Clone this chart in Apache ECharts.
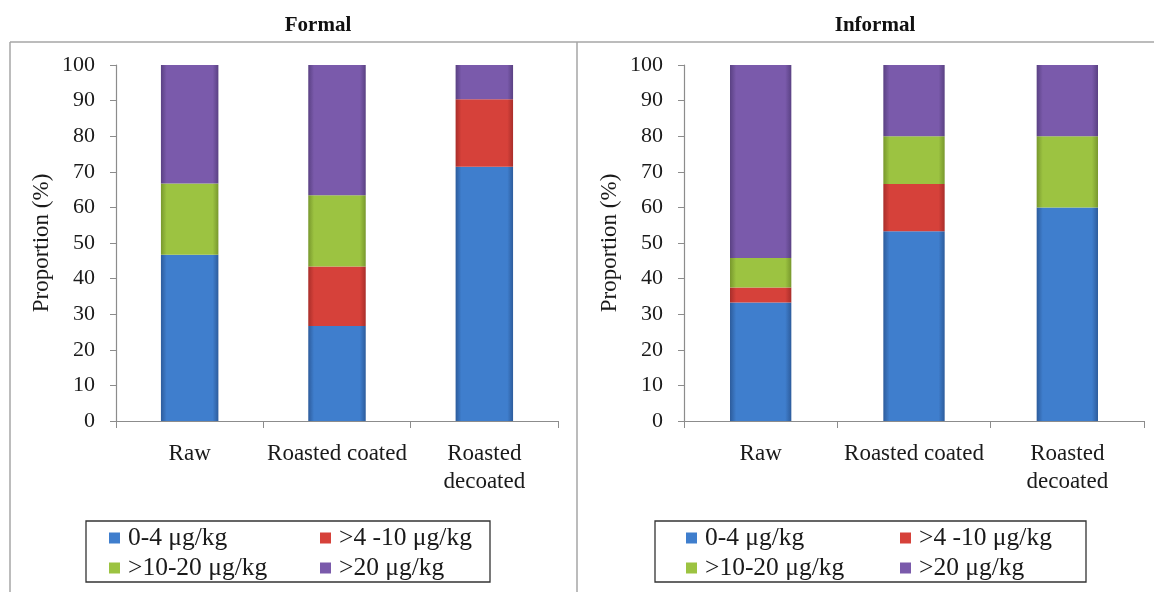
<!DOCTYPE html>
<html>
<head>
<meta charset="utf-8">
<script src="https://cdn.jsdelivr.net/npm/echarts@6/dist/echarts.min.js"></script>
<style>
  html, body { margin: 0; padding: 0; background: #fff; }
  #chart { width: 1154px; height: 592px; }
</style>
</head>
<body>
<div id="chart"></div>
<script>
// Sample categories shared by both panels
const categories = ['Raw', 'Roasted coated', 'Roasted\ndecoated'];
const panelTitles = ['Formal', 'Informal'];
const classNames = ['0-4 μg/kg', '>4 -10 μg/kg', '>10-20 μg/kg', '>20 μg/kg'];
const yTicks = [0, 10, 20, 30, 40, 50, 60, 70, 80, 90, 100];

// Proportion (%) of samples in each contamination class
const formal_0_4    = [46.7, 26.7, 71.4];
const formal_4_10   = [0, 16.7, 19.0];
const formal_10_20  = [20.0, 20.0, 0];
const formal_gt20   = [33.3, 36.6, 9.6];

const informal_0_4   = [33.3, 53.3, 60.0];
const informal_4_10  = [4.2, 13.3, 0];
const informal_10_20 = [8.3, 13.4, 20.0];
const informal_gt20  = [54.2, 20.0, 20.0];

const formalSets = [formal_0_4, formal_4_10, formal_10_20, formal_gt20];
const informalSets = [informal_0_4, informal_4_10, informal_10_20, informal_gt20];

// Base / edge shades for each class
const palette = [
  { mid: '#3f7ecd', edge: '#2d5c9c' },
  { mid: '#d6413a', edge: '#a92e2a' },
  { mid: '#9cc341', edge: '#78982d' },
  { mid: '#7a5aab', edge: '#5a4183' }
];

function barFill(c) {
  return new echarts.graphic.LinearGradient(0, 0, 1, 0, [
    { offset: 0, color: c.edge },
    { offset: 0.1, color: c.mid },
    { offset: 0.9, color: c.mid },
    { offset: 1, color: c.edge }
  ]);
}

const serif = 'Liberation Serif';

const chart = echarts.init(document.getElementById('chart'), null, { renderer: 'canvas' });

const grids = [
  { left: 116, width: 442, top: 65, height: 356 },
  { left: 684, width: 460, top: 65, height: 356 }
];

function xAxisFor(i) {
  return {
    type: 'category',
    gridIndex: i,
    data: categories,
    axisLine: { lineStyle: { color: '#8c8c8c', width: 1.2 } },
    axisTick: { show: true, length: 7, alignWithLabel: false, lineStyle: { color: '#8c8c8c' } },
    axisLabel: {
      interval: 0, margin: 19, color: '#1a1a1a',
      fontFamily: serif, fontSize: 23, lineHeight: 28
    }
  };
}

function yAxisFor(i) {
  return {
    type: 'value',
    gridIndex: i,
    min: 0, max: 100, interval: 10,
    name: 'Proportion (%)',
    nameLocation: 'middle',
    nameRotate: 90,
    nameGap: 63,
    nameTextStyle: { fontFamily: serif, fontSize: 23, color: '#1a1a1a' },
    splitLine: { show: false },
    axisLine: { show: true, lineStyle: { color: '#8c8c8c', width: 1.2 } },
    axisTick: { show: true, inside: false, length: 6, lineStyle: { color: '#8c8c8c' } },
    axisLabel: {
      margin: 21, color: '#1a1a1a', fontFamily: serif, fontSize: 22,
      formatter: v => (yTicks.indexOf(v) >= 0 ? String(v) : '')
    }
  };
}

const series = [];
[formalSets, informalSets].forEach((sets, g) => {
  sets.forEach((vals, k) => {
    series.push({
      name: classNames[k],
      type: 'bar',
      stack: 'panel' + g,
      xAxisIndex: g,
      yAxisIndex: g,
      barWidth: g === 0 ? '39%' : '40%',
      itemStyle: { color: barFill(palette[k]) },
      emphasis: { disabled: true },
      data: vals
    });
  });
});

function legendAt(left, top, names) {
  return {
    orient: 'vertical',
    left: left, top: top,
    data: names.map(n => ({ name: n, itemStyle: { color: palette[classNames.indexOf(n)].mid } })),
    icon: 'rect',
    itemWidth: 11, itemHeight: 11,
    itemGap: 4,
    selectedMode: false,
    textStyle: { fontFamily: serif, fontSize: 25.5, color: '#1a1a1a', lineHeight: 26, padding: [0, 0, 0, 3] },
    padding: 0
  };
}

const frameColor = '#a6a6a6';

chart.setOption({
  animation: false,
  backgroundColor: '#ffffff',
  title: [
    { text: panelTitles[0], left: 313, top: 10, textAlign: 'center',
      textStyle: { fontFamily: serif, fontWeight: 'bold', fontSize: 21, color: '#111' } },
    { text: panelTitles[1], left: 870, top: 10, textAlign: 'center',
      textStyle: { fontFamily: serif, fontWeight: 'bold', fontSize: 21, color: '#111' } }
  ],
  grid: grids,
  xAxis: [xAxisFor(0), xAxisFor(1)],
  yAxis: [yAxisFor(0), yAxisFor(1)],
  legend: [
    legendAt(109, 525, [classNames[0], classNames[2]]),
    legendAt(320, 525, [classNames[1], classNames[3]]),
    legendAt(686, 525, [classNames[0], classNames[2]]),
    legendAt(900, 525, [classNames[1], classNames[3]])
  ],
  graphic: [
    // outer panel frame and divider
    { type: 'line', shape: { x1: 10, y1: 42, x2: 1154, y2: 42 }, style: { stroke: frameColor, lineWidth: 1.5 } },
    { type: 'line', shape: { x1: 10, y1: 42, x2: 10, y2: 592 }, style: { stroke: frameColor, lineWidth: 1.5 } },
    { type: 'line', shape: { x1: 577, y1: 42, x2: 577, y2: 592 }, style: { stroke: frameColor, lineWidth: 1.5 } },
    // legend boxes
    { type: 'rect', shape: { x: 86, y: 521, width: 404, height: 61 }, style: { fill: 'none', stroke: '#333', lineWidth: 1.3 }, z: -1 },
    { type: 'rect', shape: { x: 655, y: 521, width: 431, height: 61 }, style: { fill: 'none', stroke: '#333', lineWidth: 1.3 }, z: -1 }
  ],
  series: series
});
</script>
</body>
</html>
